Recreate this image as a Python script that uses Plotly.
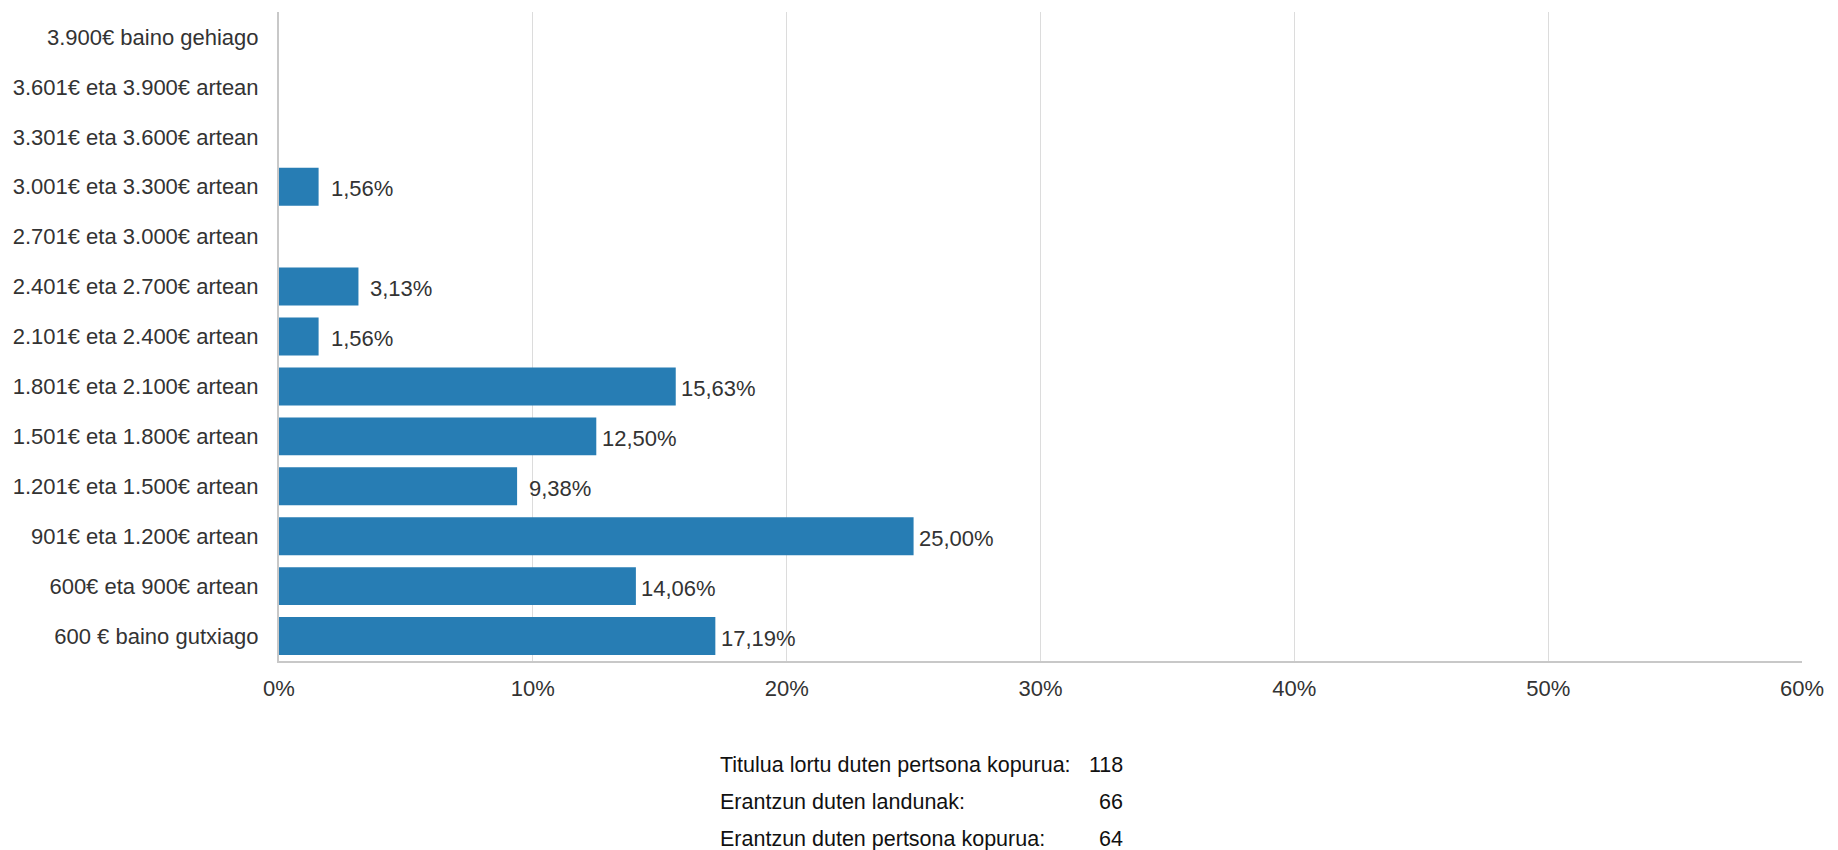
import plotly.graph_objects as go

categories = [
    "600 € baino gutxiago",
    "600€ eta 900€ artean",
    "901€ eta 1.200€ artean",
    "1.201€ eta 1.500€ artean",
    "1.501€ eta 1.800€ artean",
    "1.801€ eta 2.100€ artean",
    "2.101€ eta 2.400€ artean",
    "2.401€ eta 2.700€ artean",
    "2.701€ eta 3.000€ artean",
    "3.001€ eta 3.300€ artean",
    "3.301€ eta 3.600€ artean",
    "3.601€ eta 3.900€ artean",
    "3.900€ baino gehiago",
]
values = [17.19, 14.06, 25.00, 9.38, 12.50, 15.63, 1.56, 3.13, 0, 1.56, 0, 0, 0]

stat_labels = [
    "Titulua lortu duten pertsona kopurua:",
    "Erantzun duten landunak:",
    "Erantzun duten pertsona kopurua:",
]
stat_values = ["118", "66", "64"]

FONT = "Liberation Sans, Arial, sans-serif"
BAR_COLOR = "#277db4"
FS = 22

fig = go.Figure()
fig.add_trace(go.Bar(
    y=categories,
    x=values,
    orientation="h",
    marker=dict(color=BAR_COLOR, line=dict(width=0)),
    width=0.76,
    hoverinfo="x+y",
))

annotations = []
for c, v in zip(categories, values):
    if v > 0:
        annotations.append(dict(
            x=v, y=c, xref="x", yref="y",
            text=f"{v:.2f}".replace(".", ",") + "%",
            showarrow=False, xanchor="center", yanchor="middle",
            xshift=43, yshift=-2,
            font=dict(family=FONT, size=FS, color="#333333"),
        ))

row_y = [-0.1602, -0.2180, -0.2743]
for lbl, val, yy in zip(stat_labels, stat_values, row_y):
    annotations.append(dict(
        x=0.2882, y=yy, xref="paper", yref="paper", text=lbl,
        showarrow=False, xanchor="left", yanchor="middle",
        font=dict(family=FONT, size=21.5, color="#111111"),
    ))
    annotations.append(dict(
        x=0.5555, y=yy, xref="paper", yref="paper", text=val,
        showarrow=False, xanchor="right", yanchor="middle",
        font=dict(family=FONT, size=21.5, color="#111111"),
    ))

fig.update_layout(
    width=1822, height=850,
    margin=dict(l=271, r=28, t=4, b=197),
    paper_bgcolor="white", plot_bgcolor="white",
    showlegend=False,
    font=dict(family=FONT, size=FS, color="#333333"),
    annotations=annotations,
    xaxis=dict(
        range=[0, 60], dtick=10, ticksuffix="%",
        showgrid=True, gridcolor="#dcdcdc", gridwidth=1,
        zeroline=False, showline=True, linecolor="#c8c8c8", linewidth=2,
        ticks="", ticklabelstandoff=7,
        tickfont=dict(family=FONT, size=FS, color="#333333"),
        fixedrange=True,
    ),
    yaxis=dict(
        categoryorder="array", categoryarray=categories,
        showgrid=False, zeroline=False,
        showline=True, linecolor="#c8c8c8", linewidth=2,
        ticks="", ticklabelstandoff=14,
        tickfont=dict(family=FONT, size=FS, color="#333333"),
        fixedrange=True,
    ),
    bargap=0.22,
)

fig.write_html("out.html")
